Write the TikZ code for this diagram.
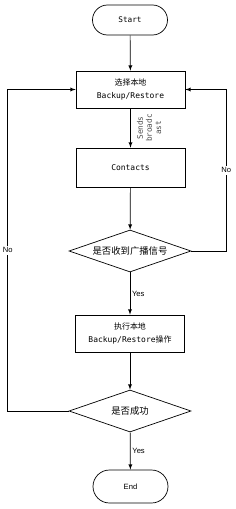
\documentclass[tikz,border=0pt]{standalone}
\usepackage{fontspec}
\setmainfont{Liberation Sans}
\newfontfamily\cjkfont{Noto Sans CJK SC}
\newfontfamily\monofont{DejaVu Sans Mono}
\usetikzlibrary{shapes.geometric}

\begin{document}
\begin{tikzpicture}[>=latex, line width=0.6pt,
    term/.style={draw, rounded corners=0.45cm, minimum width=2.25cm, minimum height=0.9cm, font=\monofont\fontsize{6.6}{8}\selectfont},
    procbox/.style={draw, minimum width=3.27cm, minimum height=1.11cm, align=center, font=\fontsize{6.8}{11}\selectfont},
    decision/.style={draw, diamond, aspect=2.9, inner sep=0pt, minimum width=3.66cm, minimum height=1.26cm, font=\cjkfont\fontsize{8}{10}\selectfont},
    lbl/.style={font=\fontsize{6.5}{8}\selectfont, inner sep=1.5pt}]
    \useasboundingbox (0,0) rectangle (7.08,-15.27);
    % Blokken
    \node[term] (start) at (3.9,-0.6) {Start};
    \node[procbox] (local) at (3.915,-2.685) {{\cjkfont 选择本地}\\{\monofont Backup/Restore}};
    \node[procbox, minimum height=1.17cm] (contacts) at (3.915,-5.025) {\monofont Contacts};
    \node[decision] (recv) at (3.9,-7.53) {是否收到广播信号};
    \node[procbox] (run) at (3.9,-10.005) {{\cjkfont 执行本地}\\{\monofont Backup/Restore}{\cjkfont 操作}};
    \node[decision] (ok) at (3.9,-12.33) {是否成功};
    \node[term, font=\fontsize{6.5}{8}\selectfont, minimum height=0.99cm, rounded corners=0.495cm] (end) at (3.915,-14.595) {End};
    % Pijlen
    \draw[->] (start) -- (local);
    \draw[->] (local) -- (contacts) node[midway, rotate=90, anchor=north, inner sep=0pt, outer sep=5.5pt, align=center, text=black!70, font=\monofont\fontsize{6.6}{7.8}\selectfont] {Sends\\broadc\\ast};
    \draw[->] (contacts) -- (recv);
    \draw[->] (recv) -- (run) node[lbl, midway, right] {Yes};
    \draw[->] (run) -- (ok);
    \draw[->] (ok) -- (end) node[lbl, midway, right] {Yes};
    % Terugkoppeling
    \draw[->] (recv.east) -- ++(1.05,0) |- (local.east) node[lbl, pos=0.25, fill=white] {No};
    \draw[->] (ok.west) -- ++(-1.83,0) |- (local.west) node[lbl, pos=0.25, fill=white] {No};
\end{tikzpicture}
\end{document}
